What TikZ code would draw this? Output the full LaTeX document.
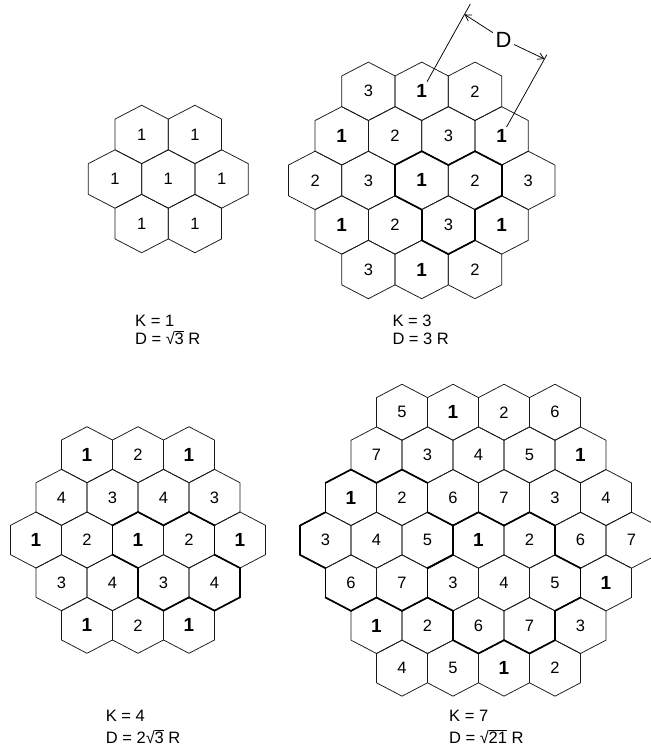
\documentclass[tikz,border=0pt]{standalone}
\usepackage{fontspec}
\setmainfont{Liberation Sans}
\usetikzlibrary{arrows.meta,calc}

\newcommand\bone{{\fontsize{19}{19}\selectfont\bfseries 1}}
\newcommand\rad[1]{\setbox0\hbox{√}\setbox2\hbox{#1}\copy0\kern-0.02em\rlap{\rule[\dimexpr\ht0-0.06em\relax]{\wd2}{0.06em}}\box2\relax}

\newcommand\hexcell[3]{%
 \begin{scope}[shift={({((#1)+(#2)/2)*\HexW},{(#2)*\HexS})}]
  \draw[cell] (0,{-\HexA/2-\HexB}) -- ({\HexW/2},{-\HexA/2}) -- ({\HexW/2},{\HexA/2}) -- (0,{\HexA/2+\HexB}) -- ({-\HexW/2},{\HexA/2}) -- ({-\HexW/2},{-\HexA/2}) -- cycle;
  \node[num] at (0,0) {#3};
 \end{scope}}

\newcommand\bedges[3]{%
 \begin{scope}[shift={({((#1)+(#2)/2)*\HexW},{(#2)*\HexS})}]
  \coordinate (v0) at (0,{-\HexA/2-\HexB});
  \coordinate (v1) at ({\HexW/2},{-\HexA/2});
  \coordinate (v2) at ({\HexW/2},{\HexA/2});
  \coordinate (v3) at (0,{\HexA/2+\HexB});
  \coordinate (v4) at ({-\HexW/2},{\HexA/2});
  \coordinate (v5) at ({-\HexW/2},{-\HexA/2});
  \coordinate (v6) at (v0);
  \foreach \k in {#3}{\pgfmathtruncatemacro\kn{\k+1}\draw[bord] (v\k) -- (v\kn);}
 \end{scope}}

\begin{document}
\begin{tikzpicture}[x=1pt,y=-1pt,
  cell/.style={draw=black!90, line width=0.75pt, line join=miter},
  bord/.style={draw=black, line width=1.7pt, line cap=round},
  num/.style={font=\fontsize{16.5}{16.5}\selectfont, inner sep=0pt},
  lab/.style={font=\fontsize{16.5}{16.5}\selectfont, inner sep=0pt, anchor=base west},
  dim/.style={draw=black, line width=0.75pt}]
\useasboundingbox (0,0) rectangle (651,748);
\clip (0,0) rectangle (651,748);

% ---------- K = 1 ----------
\begin{scope}[shift={(168.3,179)}]
\def\HexW{53.3}\def\HexA{30.7}\def\HexB{13.85}\def\HexS{44.55}
\foreach \q in {0,1} {\hexcell{\q}{-1}{1}}
\foreach \q in {-1,0,1} {\hexcell{\q}{0}{1}}
\foreach \q in {-1,0} {\hexcell{\q}{1}{1}}
\end{scope}

% ---------- K = 3 ----------
\begin{scope}[shift={(421.7,180.4)}]
\def\HexW{53.3}\def\HexA{30.7}\def\HexB{13.85}\def\HexS{44.55}
\foreach \q/\l in {0/3,1/\bone,2/2} {\hexcell{\q}{-2}{\l}}
\foreach \q/\l in {-1/\bone,0/2,1/3,2/\bone} {\hexcell{\q}{-1}{\l}}
\foreach \q/\l in {-2/2,-1/3,0/\bone,1/2,2/3} {\hexcell{\q}{0}{\l}}
\foreach \q/\l in {-2/\bone,-1/2,0/3,1/\bone} {\hexcell{\q}{1}{\l}}
\foreach \q/\l in {-2/3,-1/\bone,0/2} {\hexcell{\q}{2}{\l}}
\bedges{0}{0}{0,3,4,5}
\bedges{1}{0}{0,1,2,5}
\bedges{0}{1}{1,2,3,4}
\end{scope}

% dimension D
\coordinate (e1a) at (427.05,81.7);
\coordinate (e1b) at (470.35,3.9);
\coordinate (e2a) at (506.5,127.1);
\coordinate (e2b) at (546.9,54.6);
\coordinate (p1) at (464.5,14.4);
\coordinate (p2) at (544.5,59.0);
\draw[dim] (e1a) -- (e1b);
\draw[dim] (e2a) -- (e2b);
\node[font=\fontsize{22}{22}\selectfont, inner sep=2.5pt] (dlab) at (503.5,39.5) {D};
\draw[dim, -{Straight Barb[length=6pt,width=7pt]}] (dlab) -- (p1);
\draw[dim, -{Straight Barb[length=6pt,width=7pt]}] (dlab) -- (p2);

% ---------- K = 4 ----------
\begin{scope}[shift={(138,540)}]
\def\HexW{51}\def\HexA{29.3}\def\HexB{13.35}\def\HexS{42.65}
\foreach \q/\l in {0/\bone,1/2,2/\bone} {\hexcell{\q}{-2}{\l}}
\foreach \q/\l in {-1/4,0/3,1/4,2/3} {\hexcell{\q}{-1}{\l}}
\foreach \q/\l in {-2/\bone,-1/2,0/\bone,1/2,2/\bone} {\hexcell{\q}{0}{\l}}
\foreach \q/\l in {-2/3,-1/4,0/3,1/4} {\hexcell{\q}{1}{\l}}
\foreach \q/\l in {-2/\bone,-1/2,0/\bone} {\hexcell{\q}{2}{\l}}
\bedges{0}{0}{0,3,4,5}
\bedges{1}{0}{0,1,5}
\bedges{0}{1}{2,3,4}
\bedges{1}{1}{0,1,2,3}
\end{scope}

% ---------- K = 7 ----------
\begin{scope}[shift={(478.5,540.2)}]
\def\HexW{51}\def\HexA{29.3}\def\HexB{13.35}\def\HexS{42.65}
\foreach \q/\l in {0/5,1/\bone,2/2,3/6} {\hexcell{\q}{-3}{\l}}
\foreach \q/\l in {-1/7,0/3,1/4,2/5,3/\bone} {\hexcell{\q}{-2}{\l}}
\foreach \q/\l in {-2/\bone,-1/2,0/6,1/7,2/3,3/4} {\hexcell{\q}{-1}{\l}}
\foreach \q/\l in {-3/3,-2/4,-1/5,0/\bone,1/2,2/6,3/7} {\hexcell{\q}{0}{\l}}
\foreach \q/\l in {-3/6,-2/7,-1/3,0/4,1/5,2/\bone} {\hexcell{\q}{1}{\l}}
\foreach \q/\l in {-3/\bone,-2/2,-1/6,0/7,1/3} {\hexcell{\q}{2}{\l}}
\foreach \q/\l in {-3/4,-2/5,-1/\bone,0/2} {\hexcell{\q}{3}{\l}}
% left cluster (centre 4)
\bedges{-1}{-1}{5,0,1}
\bedges{-1}{0}{0,1,2}
\bedges{-2}{1}{1,2,3}
\bedges{-3}{1}{2,3,4}
\bedges{-3}{0}{3,4,5}
\bedges{-2}{-1}{4,5,0}
% middle cluster (centre 4)
\bedges{1}{0}{5,0,1}
\bedges{1}{1}{0,1,2}
\bedges{0}{2}{1,2,3}
\bedges{-1}{2}{2,3,4}
\bedges{-1}{1}{3,4,5}
\bedges{0}{0}{4,5,0}
\end{scope}

% ---------- captions ----------
\node[lab] (k1) at (135,326.5) {K = 1};
\node[lab] (d1) at (135,344.3) {D = \rad{3} R};
\node[lab] (k3) at (392.3,326.5) {K = 3};
\node[lab] (d3) at (392.3,344.3) {D = 3 R};
\node[lab] (k4) at (105.7,721) {K = 4};
\node[lab] (d4) at (105.7,743.4) {D = 2\rad{3} R};
\node[lab] (k7) at (449,721.5) {K = 7};
\node[lab] (d7) at (449,743.3) {D = \rad{21} R};
\end{tikzpicture}
\end{document}
